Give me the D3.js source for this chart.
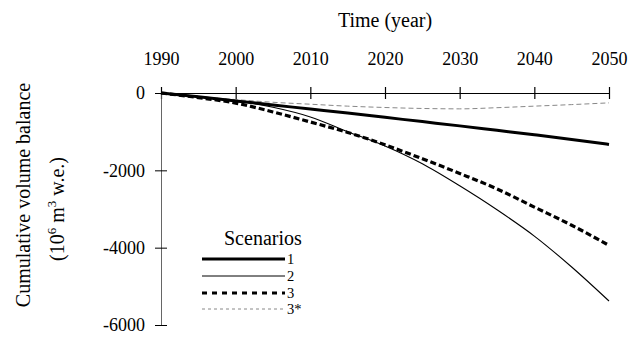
<!DOCTYPE html>
<html>
<head>
<meta charset="utf-8">
<script src="https://cdn.jsdelivr.net/npm/d3@7"></script>
<style>
  html, body { margin: 0; padding: 0; background: #fff; }
  svg { display: block; }
</style>
</head>
<body>
<svg id="chart" width="643" height="342"></svg>
<script>
// Simulated cumulative volume balance (10^6 m^3 w.e.) for each scenario
const years = [1990, 1995, 2000, 2005, 2010, 2015, 2020, 2025, 2030, 2035, 2040, 2045, 2050];
const scenario1 = [0, -100, -205, -310, -415, -520, -630, -740, -850, -965, -1080, -1200, -1330];
const scenario2 = [0, -90, -200, -370, -620, -1000, -1370, -1830, -2400, -3020, -3700, -4500, -5380];
const scenario3 = [0, -120, -260, -490, -750, -1020, -1340, -1700, -2080, -2480, -2950, -3420, -3940];
const scenario3s = [0, -90, -170, -240, -290, -340, -375, -400, -410, -380, -340, -300, -255];

const xTicks = [1990, 2000, 2010, 2020, 2030, 2040, 2050];
const yTicks = [0, -2000, -4000, -6000];
const legendLabels = ["1", "2", "3", "3*"];

const serif = "'Liberation Serif', Tinos, 'Times New Roman', serif";

const styles = [
  { width: 3, dash: null, color: "#000" },
  { width: 1.1, dash: null, color: "#000" },
  { width: 3.2, dash: "6,3", color: "#000" },
  { width: 1, dash: "5,3", color: "#888" }
];
const series = [scenario1, scenario2, scenario3, scenario3s];

const svg = d3.select("#chart").attr("font-family", serif);
const x = d3.scaleLinear().domain([1990, 2050]).range([161, 609]);
const y = d3.scaleLinear().domain([0, -6000]).range([93, 325]);

// Top time axis with ticks crossing the line
const xAxis = svg.append("g")
  .attr("transform", `translate(0,${y(0)})`)
  .call(d3.axisTop(x).tickValues(xTicks).tickFormat(d3.format("d"))
    .tickSize(6).tickSizeOuter(0).tickPadding(22));
xAxis.attr("font-family", serif).attr("font-size", 18);
xAxis.selectAll(".tick line").attr("y1", -6).attr("y2", 6).attr("stroke-width", 1.2);
xAxis.select(".domain").attr("stroke-width", 1.2);

// Left value axis
const yAxis = svg.append("g")
  .attr("transform", `translate(${x(1990)},0)`)
  .call(d3.axisLeft(y).tickValues(yTicks).tickFormat(d => d === 0 ? "0" : "-" + Math.abs(d))
    .tickSize(6).tickSizeOuter(0).tickPadding(10));
yAxis.attr("font-family", serif).attr("font-size", 18);
yAxis.selectAll(".tick line").attr("x1", -6).attr("x2", 6).attr("stroke-width", 1);
yAxis.select(".domain").attr("stroke", "#555").attr("stroke-width", 0.9);

// Axis titles
svg.append("text")
  .attr("x", 385).attr("y", 27)
  .attr("text-anchor", "middle")
  .attr("font-size", 20)
  .text("Time (year)");

svg.append("text")
  .attr("transform", "translate(30,195) rotate(-90)")
  .attr("text-anchor", "middle")
  .attr("font-size", 20)
  .text("Cumulative volume balance");

const unit = svg.append("text")
  .attr("transform", "translate(64,209) rotate(-90)")
  .attr("text-anchor", "middle")
  .attr("font-size", 20);
unit.append("tspan").text("(10");
unit.append("tspan").attr("font-size", 13).attr("dy", -8).text("6");
unit.append("tspan").attr("dy", 8).text(" m");
unit.append("tspan").attr("font-size", 13).attr("dy", -8).text("3");
unit.append("tspan").attr("dy", 8).text(" w.e.)");

// Scenario curves
const line = d3.line()
  .x((d, i) => x(years[i]))
  .y(d => y(d))
  .curve(d3.curveMonotoneX);

const drawOrder = [3, 0, 2, 1];
drawOrder.forEach(k => {
  svg.append("path")
    .datum(series[k])
    .attr("fill", "none")
    .attr("stroke", styles[k].color)
    .attr("stroke-width", styles[k].width)
    .attr("stroke-dasharray", styles[k].dash)
    .attr("d", line);
});

// Legend
const legend = svg.append("g");
legend.append("text")
  .attr("x", 224).attr("y", 245)
  .attr("font-size", 20)
  .text("Scenarios");
const legendY = [259, 276, 293, 309];
const legendDash = [null, null, "5,5", "3,3"];
legendLabels.forEach((lab, i) => {
  legend.append("line")
    .attr("x1", 202).attr("x2", 285)
    .attr("y1", legendY[i]).attr("y2", legendY[i])
    .attr("stroke", styles[i].color)
    .attr("stroke-width", i === 0 ? 3 : i === 2 ? 3 : 1)
    .attr("stroke-dasharray", legendDash[i]);
  legend.append("text")
    .attr("x", 287).attr("y", legendY[i] + 5)
    .attr("font-size", 14.5)
    .text(lab);
});
</script>
</body>
</html>
